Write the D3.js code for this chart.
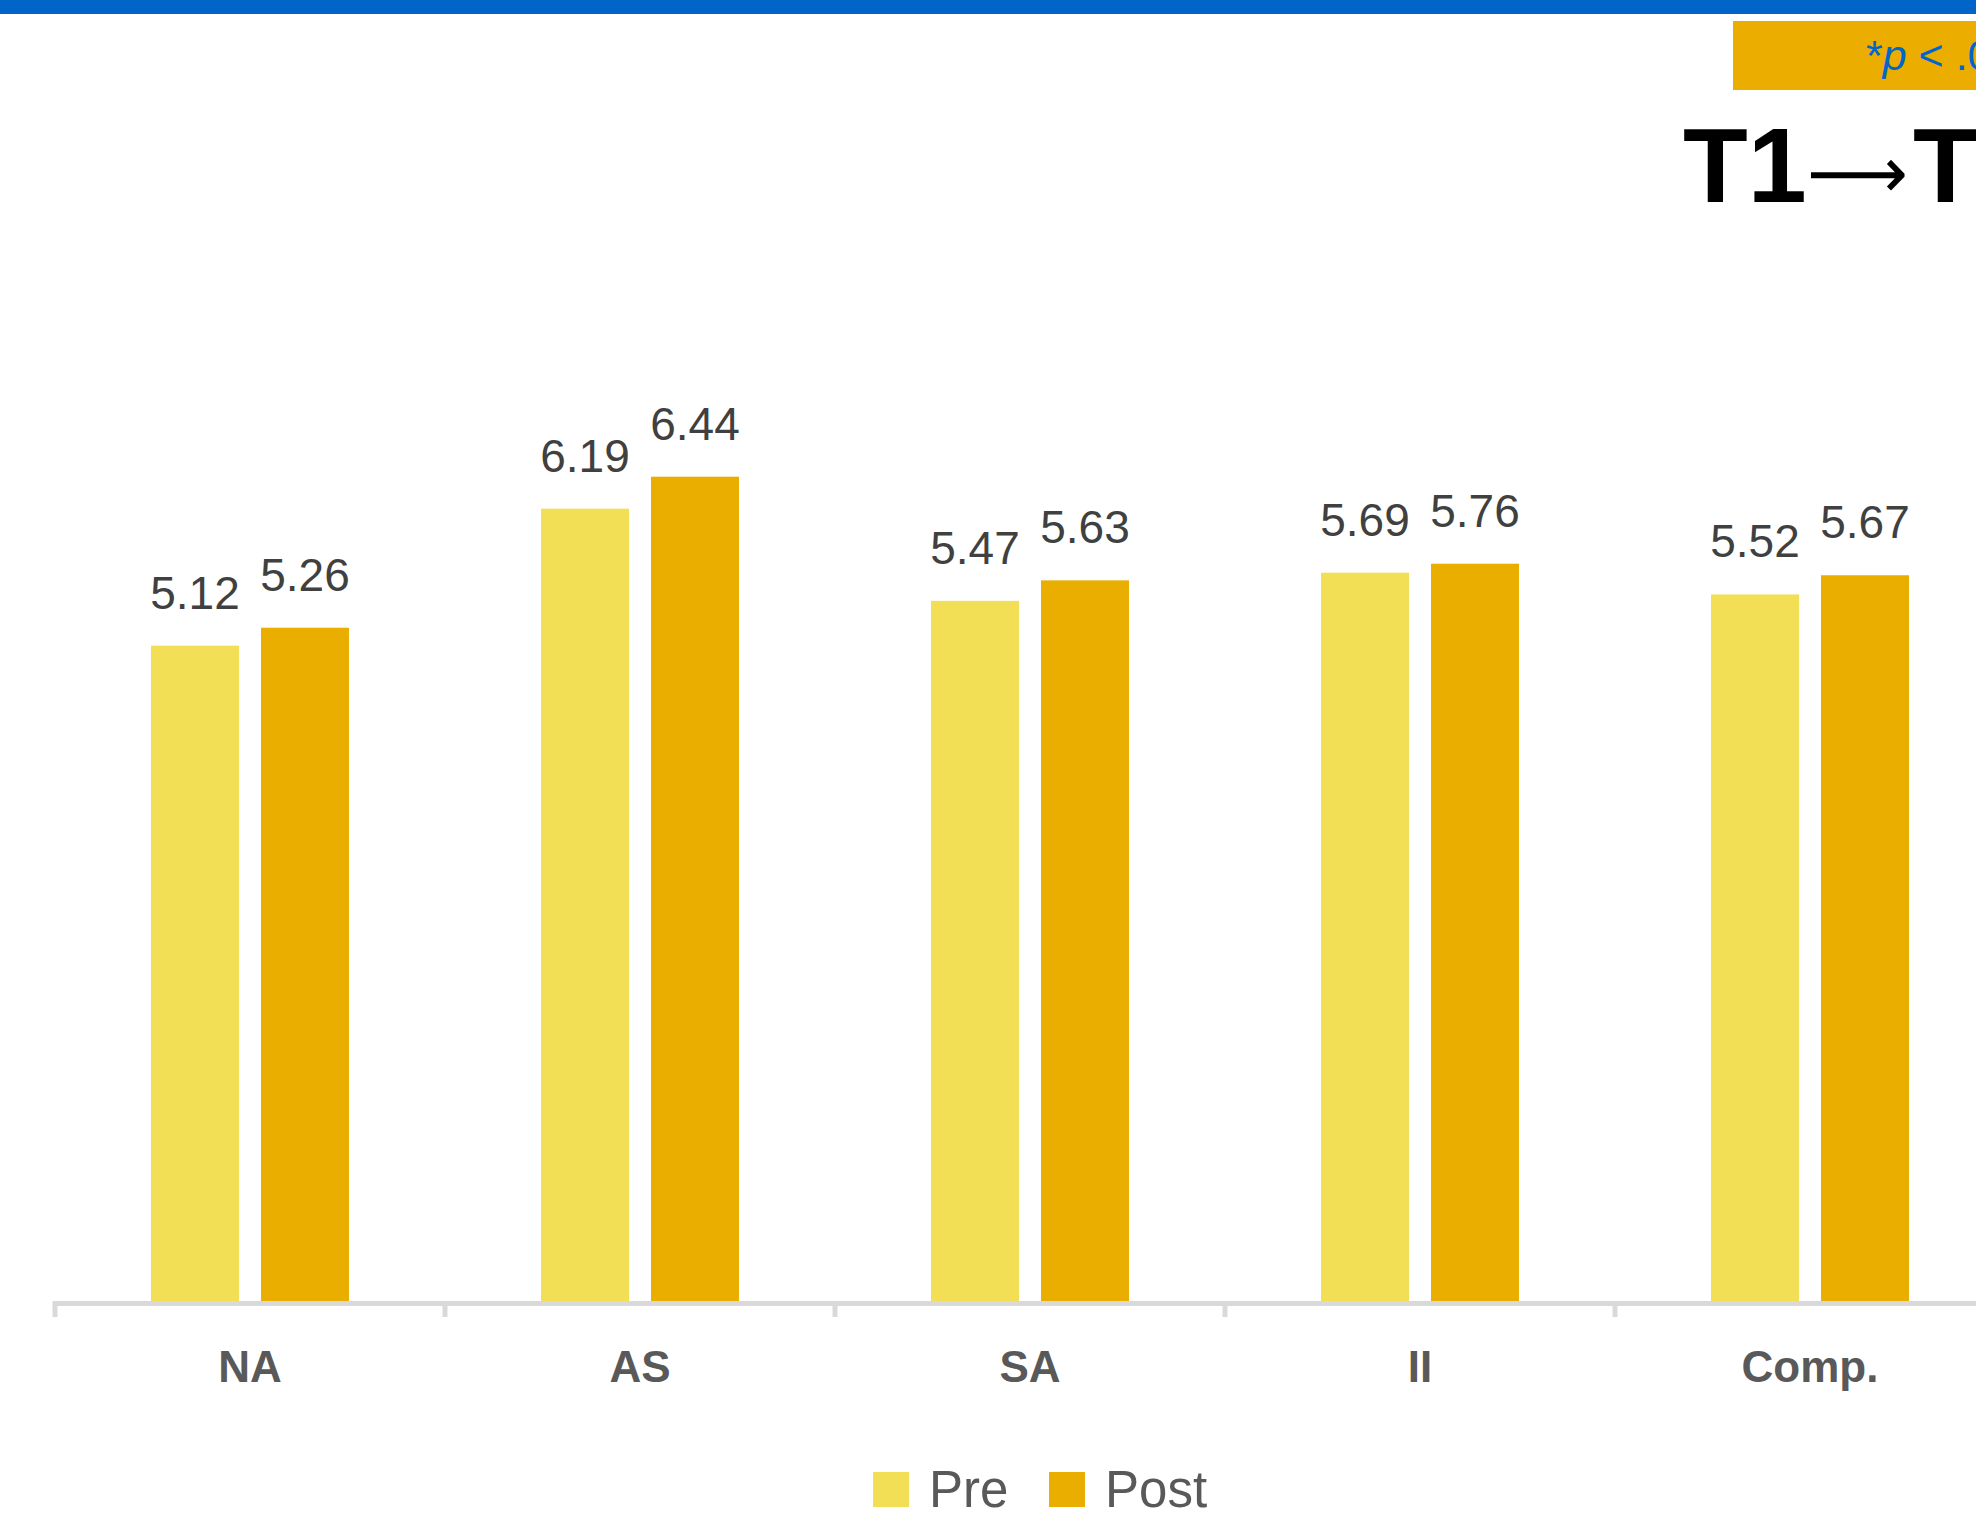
<!DOCTYPE html>
<html>
<head>
<meta charset="utf-8">
<script src="https://cdn.jsdelivr.net/npm/d3@7"></script>
<style>
  html, body { margin: 0; padding: 0; background: #ffffff; overflow: hidden; }
  svg { display: block; }
</style>
</head>
<body>
<svg id="chart" width="1976" height="1521"></svg>
<script>
// Mean scores per subscale, before and after
const categories = ["NA", "AS", "SA", "II", "Comp."];
const seriesNames = ["Pre", "Post"];
const preValues  = [5.12, 6.19, 5.47, 5.69, 5.52];
const postValues = [5.26, 6.44, 5.63, 5.76, 5.67];
const seriesColors = ["#F2DF55", "#EAAE00"];

const titleFrom = "T1";
const titleArrow = "\u27F6";
const titleTo = "T2";

const W = 1976, H = 1521;
const svg = d3.select("#chart");

// top banner strip
svg.append("rect").attr("x", 0).attr("y", 0).attr("width", W).attr("height", 14).attr("fill", "#0064C8");

// significance note box
svg.append("rect").attr("x", 1733).attr("y", 21).attr("width", W - 1733).attr("height", 69).attr("fill", "#EAAD00");
const note = svg.append("text")
  .attr("x", 1866).attr("y", 70)
  .attr("font-family", "'Liberation Sans', Arial, sans-serif")
  .attr("font-size", 43).attr("fill", "#0066CC");
note.append("tspan").text("*");
note.append("tspan").attr("font-style", "italic").text("p");
note.append("tspan").text(" < .05");

// heading: T1 ⟶ T2
const titleFont = "'Liberation Sans', Arial, sans-serif";
svg.append("text")
  .attr("x", 1683).attr("y", 202)
  .attr("font-family", titleFont)
  .attr("font-size", 106).attr("font-weight", "bold").attr("fill", "#000")
  .text(titleFrom);
svg.append("text")
  .attr("x", 1807).attr("y", 198)
  .attr("font-family", "'DejaVu Sans', sans-serif")
  .attr("font-size", 72).attr("fill", "#000")
  .attr("textLength", 101).attr("lengthAdjust", "spacingAndGlyphs")
  .text(titleArrow);
svg.append("text")
  .attr("x", 1913).attr("y", 202)
  .attr("font-family", titleFont)
  .attr("font-size", 106).attr("font-weight", "bold").attr("fill", "#000")
  .text(titleTo);

// scales
const baseY = 1301;
const y = d3.scaleLinear().domain([0, 7]).range([baseY, baseY - 7 * 128]);
const x = d3.scaleBand().domain(categories).range([55, 2005]).paddingInner(0).paddingOuter(0);
const xs = d3.scaleBand().domain(seriesNames).range([96, 294]).paddingInner(0.2);

const rows = categories.map((c, i) => ({ cat: c, vals: [
  { s: "Pre", v: preValues[i] },
  { s: "Post", v: postValues[i] }
]}));

const groups = svg.append("g").selectAll("g").data(rows).join("g")
  .attr("transform", d => `translate(${x(d.cat)},0)`);

groups.selectAll("rect").data(d => d.vals).join("rect")
  .attr("x", d => xs(d.s))
  .attr("y", d => y(d.v))
  .attr("width", xs.bandwidth())
  .attr("height", d => y(0) - y(d.v))
  .attr("fill", (d, i) => seriesColors[i]);

groups.selectAll("text.val").data(d => d.vals).join("text")
  .attr("class", "val")
  .attr("x", d => xs(d.s) + xs.bandwidth() / 2)
  .attr("y", d => y(d.v) - 37)
  .attr("text-anchor", "middle")
  .attr("font-family", "'Liberation Sans', Arial, sans-serif")
  .attr("font-size", 46)
  .attr("fill", "#404040")
  .text(d => d.v.toFixed(2));

// category axis: baseline, boundary ticks, labels
const axisG = svg.append("g");
axisG.append("line")
  .attr("x1", x.range()[0]).attr("x2", x.range()[1])
  .attr("y1", baseY + 2.5).attr("y2", baseY + 2.5)
  .attr("stroke", "#D9D9D9").attr("stroke-width", 5);
const bounds = categories.map(c => x(c)).concat([x.range()[1]]);
axisG.selectAll("line.tick").data(bounds).join("line")
  .attr("class", "tick")
  .attr("x1", d => d).attr("x2", d => d)
  .attr("y1", baseY).attr("y2", baseY + 16)
  .attr("stroke", "#D9D9D9").attr("stroke-width", 5);
axisG.selectAll("text").data(categories).join("text")
  .attr("x", d => x(d) + x.bandwidth() / 2)
  .attr("y", 1382)
  .attr("text-anchor", "middle")
  .attr("font-family", "'Liberation Sans', Arial, sans-serif")
  .attr("font-size", 44).attr("font-weight", "bold")
  .attr("fill", "#595959")
  .text(d => d);

// legend
const legendX = [873, 1049];
const lg = svg.append("g").selectAll("g").data(seriesNames).join("g")
  .attr("transform", (d, i) => `translate(${legendX[i]},0)`);
lg.append("rect").attr("x", 0).attr("y", 1472).attr("width", 36).attr("height", 35)
  .attr("fill", (d, i) => seriesColors[i]);
lg.append("text").attr("x", 56).attr("y", 1507)
  .attr("font-family", "'Liberation Sans', Arial, sans-serif")
  .attr("font-size", 51).attr("fill", "#595959")
  .text(d => d);
</script>
</body>
</html>
